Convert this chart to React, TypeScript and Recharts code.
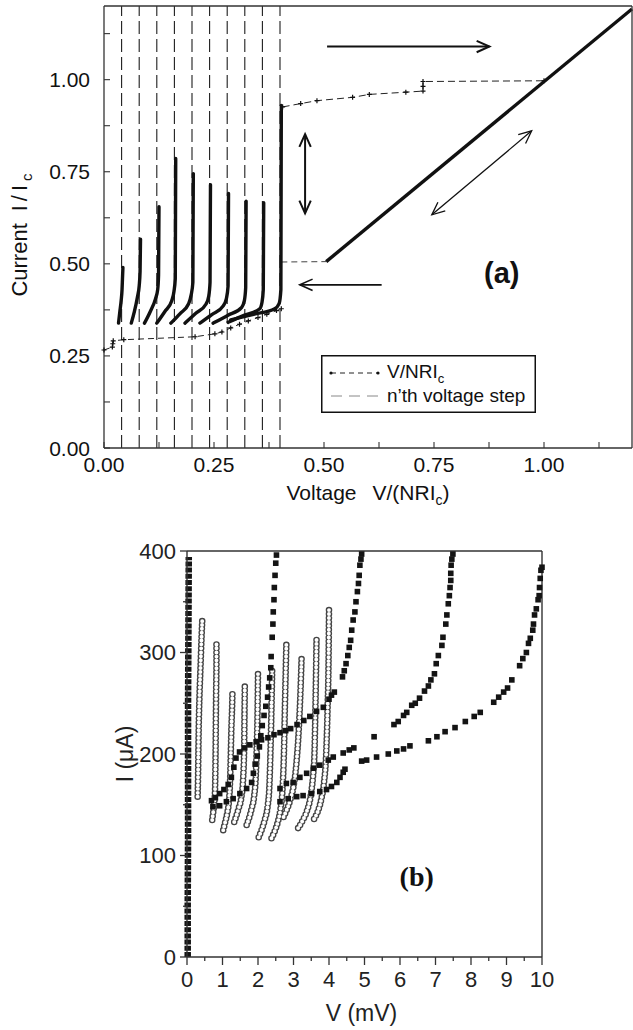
import React from 'react';
import {
  ComposedChart,
  Line,
  Scatter,
  XAxis,
  YAxis,
  ReferenceLine,
  ReferenceDot,
  Legend,
  Label,
} from 'recharts';

type P = [number, number];
const rows = (pts: P[]) => pts.map(([v, i]) => ({ v, i }));

const SANS = '"Liberation Sans", Arial, Helvetica, sans-serif';
const SERIF = '"Liberation Serif", "Times New Roman", serif';
const AX = '#333';

// ---------- panel (a): normalised voltage V/(NRIc) vs current I/Ic ----------
const voltageSteps = [0.04, 0.08, 0.12, 0.16, 0.2, 0.24, 0.28, 0.32, 0.36, 0.4];
const aTicks = [0, 0.125, 0.25, 0.375, 0.5, 0.625, 0.75, 0.875, 1, 1.125];

const step1: P[] = [[0.033, 0.339], [0.036, 0.37], [0.039, 0.4], [0.041, 0.43], [0.042, 0.46], [0.043, 0.49]];
const step2: P[] = [[0.062, 0.339], [0.069, 0.37], [0.076, 0.41], [0.08, 0.44], [0.082, 0.48], [0.083, 0.567]];
const step3: P[] = [[0.092, 0.339], [0.105, 0.37], [0.117, 0.405], [0.122, 0.43], [0.124, 0.47], [0.125, 0.655]];
const step4: P[] = [[0.12, 0.339], [0.138, 0.37], [0.154, 0.4], [0.159, 0.425], [0.162, 0.46], [0.163, 0.786]];
const step5: P[] = [[0.152, 0.339], [0.173, 0.365], [0.192, 0.391], [0.198, 0.415], [0.202, 0.45], [0.203, 0.745]];
const step6: P[] = [[0.184, 0.339], [0.208, 0.365], [0.232, 0.391], [0.238, 0.412], [0.241, 0.45], [0.242, 0.715]];
const step7: P[] = [[0.218, 0.339], [0.245, 0.362], [0.271, 0.386], [0.278, 0.405], [0.282, 0.44], [0.283, 0.691]];
const step8: P[] = [[0.248, 0.339], [0.281, 0.36], [0.313, 0.382], [0.319, 0.4], [0.322, 0.435], [0.323, 0.67]];
const step9: P[] = [[0.282, 0.341], [0.318, 0.36], [0.354, 0.378], [0.359, 0.395], [0.362, 0.43], [0.363, 0.666]];
const step10: P[] = [[0.288, 0.348], [0.34, 0.363], [0.388, 0.378], [0.398, 0.392], [0.402, 0.43], [0.403, 0.93]];
const stepCurves = [step1, step2, step3, step4, step5, step6, step7, step8, step9, step10];

const loadLower: P[] = [
  [0.0, 0.266], [0.019, 0.274], [0.02, 0.283], [0.021, 0.291], [0.045, 0.294], [0.207, 0.302],
  [0.252, 0.31], [0.268, 0.315], [0.288, 0.326], [0.308, 0.336], [0.328, 0.345], [0.35, 0.354],
  [0.37, 0.363], [0.392, 0.373], [0.403, 0.378],
];
const loadUpper: P[] = [
  [0.406, 0.926], [0.447, 0.935], [0.484, 0.943], [0.565, 0.952], [0.603, 0.96], [0.686, 0.966],
  [0.725, 0.969], [0.725, 0.982], [0.725, 0.995], [1.0, 0.997],
];
const retrapLink: P[] = [[0.403, 0.505], [0.505, 0.506]];
const ohmicBranch: P[] = [[0.505, 0.506], [1.2, 1.192]];

// ---------- panel (b): measured I-V, V in mV, I in µA ----------
const bTicksV = [0, 0.5, 1, 1.5, 2, 2.5, 3, 3.5, 4, 4.5, 5, 5.5, 6, 6.5, 7, 7.5, 8, 8.5, 9, 9.5, 10];
const bTicksI = [0, 50, 100, 150, 200, 250, 300, 350, 400];

const zeroBranch: P[] = [[0.02, 0], [0.02, 50], [0.03, 120], [0.03, 180], [0.03, 250], [0.04, 320], [0.05, 394]];

const swA: P[] = [
  [0.73, 148], [0.92, 149], [1.11, 153], [1.3, 156], [1.49, 161], [1.68, 166], [1.82, 172], [1.87, 181],
  [1.92, 190], [1.98, 198], [2.04, 207], [2.08, 218], [2.12, 228], [2.17, 238], [2.22, 247], [2.27, 256],
  [2.3, 266], [2.33, 275], [2.36, 285], [2.37, 296], [2.4, 315], [2.42, 328], [2.43, 340], [2.45, 352],
  [2.46, 364], [2.48, 376], [2.5, 388], [2.52, 396],
];
const swB: P[] = [
  [0.69, 154], [0.8, 157], [0.92, 161], [1.04, 165], [1.16, 170], [1.25, 177], [1.32, 187], [1.38, 196],
  [1.48, 202], [1.62, 206], [1.77, 209], [1.95, 212], [2.1, 214], [2.28, 216], [2.45, 219], [2.62, 221],
  [2.78, 223], [2.92, 225], [3.1, 229], [3.29, 233], [3.46, 237], [3.65, 242], [3.84, 246], [4.0, 254],
  [4.07, 258], [4.15, 261], [4.38, 276], [4.43, 282], [4.48, 289], [4.53, 297], [4.57, 305], [4.61, 312],
  [4.64, 322], [4.68, 332], [4.73, 340], [4.76, 350], [4.8, 360], [4.83, 368], [4.85, 376], [4.87, 386],
  [4.9, 392], [4.92, 397],
];
const swC: P[] = [
  [2.62, 166], [2.8, 171], [2.99, 172], [3.18, 177], [3.37, 181], [3.56, 186], [3.74, 189], [3.98, 194],
  [4.12, 197], [4.4, 201], [4.57, 204], [4.7, 206], [5.27, 217], [5.83, 229], [5.95, 232], [6.1, 238],
  [6.19, 241], [6.33, 248], [6.43, 250], [6.55, 255], [6.69, 262], [6.8, 267], [6.87, 273], [6.97, 279],
  [7.02, 289], [7.08, 297], [7.18, 307], [7.21, 315], [7.29, 328], [7.32, 337], [7.36, 348], [7.39, 356],
  [7.41, 364], [7.43, 371], [7.43, 378], [7.44, 386], [7.46, 392], [7.49, 397],
];
const swD: P[] = [
  [2.62, 153], [2.85, 156], [3.09, 158], [3.27, 159], [3.51, 161], [3.74, 163], [3.93, 165], [4.07, 168],
  [4.22, 172], [4.31, 177], [4.4, 182], [4.45, 185], [4.92, 193], [5.06, 194], [5.34, 197], [5.67, 200],
  [5.91, 203], [6.1, 205], [6.28, 208], [6.8, 213], [7.04, 217], [7.27, 222], [7.55, 226], [7.84, 232],
  [8.09, 237], [8.26, 241], [8.64, 251], [8.78, 256], [8.92, 261], [9.03, 265], [9.15, 273], [9.37, 287],
  [9.46, 294], [9.56, 300], [9.62, 309], [9.67, 314], [9.74, 322], [9.76, 328], [9.79, 337], [9.84, 343],
  [9.89, 352], [9.92, 356], [9.93, 364], [9.95, 373], [9.97, 381], [10.0, 384],
];
const sweeps = [swA, swB, swC, swD];

const loop1: P[] = [[0.3, 158], [0.31, 175], [0.32, 200], [0.33, 225], [0.35, 255], [0.38, 285], [0.41, 315], [0.43, 332]];
const loop2: P[] = [[0.71, 135], [0.74, 143], [0.77, 152], [0.79, 165], [0.8, 185], [0.81, 220], [0.82, 260], [0.83, 290], [0.83, 310]];
const loop3: P[] = [[1.02, 125], [1.07, 132], [1.13, 141], [1.18, 153], [1.21, 170], [1.23, 195], [1.25, 225], [1.27, 245], [1.28, 260]];
const loop4: P[] = [[1.33, 133], [1.39, 139], [1.46, 147], [1.53, 157], [1.58, 175], [1.61, 205], [1.62, 240], [1.63, 270]];
const loop5: P[] = [[1.68, 130], [1.75, 137], [1.82, 146], [1.89, 158], [1.94, 180], [1.97, 215], [1.99, 250], [2.0, 281]];
const loop6: P[] = [[2.02, 118], [2.1, 125], [2.19, 135], [2.27, 148], [2.32, 168], [2.35, 200], [2.38, 245], [2.4, 284]];
const loop7: P[] = [[2.38, 117], [2.46, 123], [2.55, 132], [2.63, 145], [2.69, 165], [2.73, 200], [2.76, 250], [2.8, 310]];
const loop8: P[] = [[2.72, 138], [2.81, 145], [2.91, 155], [3.0, 168], [3.08, 190], [3.15, 225], [3.2, 265], [3.23, 297]];
const loop9: P[] = [[3.13, 127], [3.25, 134], [3.38, 144], [3.48, 158], [3.55, 178], [3.59, 200], [3.62, 250], [3.65, 316]];
const loop10: P[] = [[3.58, 136], [3.68, 143], [3.78, 155], [3.86, 172], [3.92, 200], [3.96, 245], [3.99, 300], [4.0, 342]];
const loops = [loop1, loop2, loop3, loop4, loop5, loop6, loop7, loop8, loop9, loop10];

// ---------- helpers ----------
const isMultiple = (v: number, step: number) => Math.abs(v / step - Math.round(v / step)) < 1e-6;

const arrowShape = (both: boolean, w: number) => (p: any) => {
  const x1 = Number(p.x1), y1 = Number(p.y1), x2 = Number(p.x2), y2 = Number(p.y2);
  const a = Math.atan2(y2 - y1, x2 - x1);
  const L = 14;
  const s = 0.42;
  const head = (x: number, y: number, ang: number) =>
    `M${x - L * Math.cos(ang - s)},${y - L * Math.sin(ang - s)}L${x},${y}L${x - L * Math.cos(ang + s)},${y - L * Math.sin(ang + s)}`;
  return (
    <g>
      <line x1={x1} y1={y1} x2={x2} y2={y2} stroke="#111" strokeWidth={w} />
      <path d={head(x2, y2, a)} fill="none" stroke="#111" strokeWidth={w} />
      {both && <path d={head(x1, y1, a + Math.PI)} fill="none" stroke="#111" strokeWidth={w} />}
    </g>
  );
};

const CrossDot = (p: any) => {
  if (p.cx == null || p.cy == null) return <g />;
  return <path d={`M${p.cx - 2.5},${p.cy}h5M${p.cx},${p.cy - 2.5}v5`} stroke="#111" strokeWidth={1.2} />;
};

const SquareMark = (p: any) => (
  <rect x={p.cx - 2.8} y={p.cy - 2.8} width={5.6} height={5.6} fill="#141414" />
);

// panel (a) ticks: inward, labels every 0.25
const ABottomTick = (p: any) => {
  const v = p.payload.value;
  return (
    <g>
      <line x1={p.x} y1={p.y} x2={p.x} y2={p.y - 6} stroke={AX} strokeWidth={1.1} />
      {isMultiple(v, 0.25) && (
        <text x={p.x} y={p.y + 24} textAnchor="middle" fontSize={21} fontFamily={SANS} fill="#111">
          {v.toFixed(2)}
        </text>
      )}
    </g>
  );
};
const ALeftTick = (p: any) => {
  const v = p.payload.value;
  return (
    <g>
      <line x1={p.x} y1={p.y} x2={p.x + 6} y2={p.y} stroke={AX} strokeWidth={1.1} />
      {isMultiple(v, 0.25) && (
        <text x={p.x - 14} y={p.y} dy="0.36em" textAnchor="end" fontSize={21} fontFamily={SANS} fill="#111">
          {v.toFixed(2)}
        </text>
      )}
    </g>
  );
};
const ARightTick = (p: any) => (
  <line x1={p.x} y1={p.y} x2={p.x - 6} y2={p.y} stroke={AX} strokeWidth={1.1} />
);

// panel (b) ticks
const BBottomTick = (p: any) => {
  const v = p.payload.value;
  const major = isMultiple(v, 1);
  return (
    <g>
      <line x1={p.x} y1={p.y} x2={p.x} y2={p.y + (major ? 8 : 4)} stroke={AX} strokeWidth={1.3} />
      {major && (
        <text x={p.x} y={p.y + 30} textAnchor="middle" fontSize={22} fontFamily={SANS} fill="#222">
          {v}
        </text>
      )}
    </g>
  );
};
const BTopTick = (p: any) => {
  const major = isMultiple(p.payload.value, 1);
  return <line x1={p.x} y1={p.y} x2={p.x} y2={p.y + (major ? 6 : 4)} stroke={AX} strokeWidth={1.3} />;
};
const BLeftTick = (p: any) => {
  const v = p.payload.value;
  const major = isMultiple(v, 100);
  return (
    <g>
      <line x1={p.x} y1={p.y} x2={p.x - (major ? 7 : 4)} y2={p.y} stroke={AX} strokeWidth={1.3} />
      {major && (
        <text x={p.x - 11} y={p.y} dy="0.36em" textAnchor="end" fontSize={22} fontFamily={SANS} fill="#222">
          {v}
        </text>
      )}
    </g>
  );
};
const BRightTick = (p: any) => (
  <line x1={p.x} y1={p.y} x2={p.x - 5} y2={p.y} stroke={AX} strokeWidth={1.3} />
);

// axis titles
const XTitleA = (p: any) => {
  const vb = p.viewBox || { x: 104, y: 448, width: 528 };
  return (
    <text x={vb.x + vb.width / 2} y={vb.y + 52} textAnchor="middle" fontSize={21} fontFamily={SANS} fill="#111">
      Voltage
      <tspan dx={16}>V/(NRI</tspan>
      <tspan dy={5} fontSize={14}>c</tspan>
      <tspan dy={-5}>)</tspan>
    </text>
  );
};
const YTitleA = (p: any) => {
  const vb = p.viewBox || { x: 0, y: 6, height: 442 };
  const cy = vb.y + vb.height / 2 + 8;
  const bx = 27;
  return (
    <text transform={`rotate(-90 ${bx} ${cy})`} x={bx} y={cy} textAnchor="middle" fontSize={22} fontFamily={SANS} fill="#111">
      Current
      <tspan dx={12} letterSpacing={4}>I/I</tspan>
      <tspan dy={5} fontSize={15}>c</tspan>
    </text>
  );
};
const XTitleB = (p: any) => {
  const vb = p.viewBox || { x: 187, y: 457, width: 355 };
  return (
    <text x={vb.x + vb.width / 2 - 3} y={vb.y + 64} textAnchor="middle" fontSize={23} fontFamily={SANS} fill="#222">
      V (mV)
    </text>
  );
};
const YTitleB = (p: any) => {
  const vb = p.viewBox || { x: 0, y: 51, height: 406 };
  const cy = vb.y + vb.height / 2;
  const bx = 133;
  return (
    <text transform={`rotate(-90 ${bx} ${cy})`} x={bx} y={cy} textAnchor="middle" fontSize={23} fontFamily={SANS} fill="#222">
      I (μA)
    </text>
  );
};

const LegendA = () => (
  <svg width={215} height={58} style={{ display: 'block' }}>
    <rect x={0.75} y={0.75} width={213.5} height={56.5} fill="#fff" stroke="#111" strokeWidth={1.5} />
    <line x1={10} y1={18} x2={57} y2={18} stroke="#222" strokeWidth={1} strokeDasharray="5 4" />
    <circle cx={10} cy={18} r={1.6} fill="#111" />
    <circle cx={57} cy={18} r={1.6} fill="#111" />
    <text x={66} y={23} fontSize={19} fontFamily={SANS} fill="#111">
      V/NRI<tspan dy={5} fontSize={13}>c</tspan>
    </text>
    <line x1={10} y1={41} x2={57} y2={41} stroke="#888" strokeWidth={1} strokeDasharray="11 7" />
    <text x={66} y={46.7} fontSize={19} fontFamily={SANS} fill="#111">
      n’th voltage step
    </text>
  </svg>
);

function PanelA() {
  return (
    <ComposedChart width={633} height={510} margin={{ top: 5, right: 0, bottom: 0, left: 0 }}>
      <XAxis
        dataKey="v"
        type="number"
        domain={[0, 1.2]}
        ticks={aTicks}
        interval={0}
        height={62}
        tick={<ABottomTick />}
        tickLine={false}
        tickSize={0}
        tickMargin={0}
        axisLine={{ stroke: AX, strokeWidth: 1.3 }}
      >
        <Label content={XTitleA} />
      </XAxis>
      <XAxis
        xAxisId="top"
        orientation="top"
        type="number"
        domain={[0, 1.2]}
        height={1}
        tick={false}
        tickLine={false}
        axisLine={{ stroke: AX, strokeWidth: 1.3 }}
      />
      <YAxis
        type="number"
        domain={[0, 1.2]}
        ticks={aTicks}
        interval={0}
        width={104}
        tick={<ALeftTick />}
        tickLine={false}
        tickSize={0}
        tickMargin={0}
        axisLine={{ stroke: AX, strokeWidth: 1.3 }}
      >
        <Label content={YTitleA} />
      </YAxis>
      <YAxis
        yAxisId="r"
        orientation="right"
        type="number"
        domain={[0, 1.2]}
        ticks={aTicks}
        interval={0}
        width={1}
        tick={<ARightTick />}
        tickLine={false}
        tickSize={0}
        tickMargin={0}
        axisLine={{ stroke: AX, strokeWidth: 1.3 }}
      />

      {voltageSteps.map((v) => (
        <ReferenceLine key={`vs${v}`} x={v} stroke="#1e1e1e" strokeWidth={1.1} strokeDasharray="13 5" />
      ))}

      <Line data={rows(loadLower)} dataKey="i" type="linear" stroke="#222" strokeWidth={1} strokeDasharray="6 4" dot={<CrossDot />} activeDot={false} isAnimationActive={false} />
      <Line data={rows(loadUpper)} dataKey="i" type="linear" stroke="#222" strokeWidth={1} strokeDasharray="7 4" dot={<CrossDot />} activeDot={false} isAnimationActive={false} />
      <Line data={rows(retrapLink)} dataKey="i" type="linear" stroke="#444" strokeWidth={1} strokeDasharray="6 4" dot={false} activeDot={false} isAnimationActive={false} />

      {stepCurves.map((c, k) => (
        <Line key={`st${k}`} data={rows(c)} dataKey="i" type="monotone" stroke="#111" strokeWidth={3.4} strokeLinecap="round" strokeLinejoin="round" dot={false} activeDot={false} isAnimationActive={false} />
      ))}
      <Line data={rows(ohmicBranch)} dataKey="i" type="linear" stroke="#111" strokeWidth={3.4} dot={false} activeDot={false} isAnimationActive={false} />

      <ReferenceLine segment={[{ x: 0.507, y: 1.09 }, { x: 0.876, y: 1.09 }]} shape={arrowShape(false, 2)} />
      <ReferenceLine segment={[{ x: 0.457, y: 0.852 }, { x: 0.457, y: 0.637 }]} shape={arrowShape(true, 2)} />
      <ReferenceLine segment={[{ x: 0.745, y: 0.633 }, { x: 0.972, y: 0.861 }]} shape={arrowShape(true, 1.3)} />
      <ReferenceLine segment={[{ x: 0.631, y: 0.443 }, { x: 0.445, y: 0.443 }]} shape={arrowShape(false, 1.6)} />

      <ReferenceDot
        x={0.904}
        y={0.448}
        r={0}
        shape={(p: any) => (
          <text x={p.cx} y={p.cy} textAnchor="middle" fontSize={29} fontWeight="bold" fontFamily={SANS} fill="#111">
            (a)
          </text>
        )}
      />

      <Legend
        layout="horizontal"
        verticalAlign="middle"
        align="center"
        content={() => <LegendA />}
        wrapperStyle={{ left: 321, top: 355, width: 215, height: 58 }}
      />
    </ComposedChart>
  );
}

function PanelB() {
  return (
    <ComposedChart width={633} height={530} margin={{ top: 50, right: 90, bottom: 0, left: 0 }}>
      <XAxis
        dataKey="v"
        type="number"
        domain={[0, 10]}
        ticks={bTicksV}
        interval={0}
        height={73}
        tick={<BBottomTick />}
        tickLine={false}
        tickSize={0}
        tickMargin={0}
        axisLine={{ stroke: AX, strokeWidth: 1.4 }}
      >
        <Label content={XTitleB} />
      </XAxis>
      <XAxis
        xAxisId="t"
        orientation="top"
        type="number"
        domain={[0, 10]}
        ticks={bTicksV}
        interval={0}
        height={1}
        tick={<BTopTick />}
        tickLine={false}
        tickSize={0}
        tickMargin={0}
        axisLine={{ stroke: AX, strokeWidth: 1.4 }}
      />
      <YAxis
        dataKey="i"
        type="number"
        domain={[0, 400]}
        ticks={bTicksI}
        interval={0}
        width={187}
        tick={<BLeftTick />}
        tickLine={false}
        tickSize={0}
        tickMargin={0}
        axisLine={{ stroke: AX, strokeWidth: 1.4 }}
      >
        <Label content={YTitleB} />
      </YAxis>
      <YAxis
        yAxisId="r"
        orientation="right"
        type="number"
        domain={[0, 400]}
        ticks={bTicksI}
        interval={0}
        width={1}
        tick={<BRightTick />}
        tickLine={false}
        tickSize={0}
        tickMargin={0}
        axisLine={{ stroke: AX, strokeWidth: 1.4 }}
      />

      {/* open-circle traces: grey discs, then white centres on the same dash rhythm */}
      {loops.map((c, k) => (
        <Line key={`lo${k}`} data={rows(c)} dataKey="i" type="monotone" stroke="#454545" strokeWidth={6.6} strokeDasharray="0 3.9" strokeLinecap="round" dot={false} activeDot={false} isAnimationActive={false} />
      ))}
      {loops.map((c, k) => (
        <Line key={`li${k}`} data={rows(c)} dataKey="i" type="monotone" stroke="#ffffff" strokeWidth={3.9} strokeDasharray="0 3.9" strokeLinecap="round" dot={false} activeDot={false} isAnimationActive={false} />
      ))}

      <Line data={rows(zeroBranch)} dataKey="i" type="linear" stroke="#141414" strokeWidth={6.5} strokeDasharray="5 1.2" dot={false} activeDot={false} isAnimationActive={false} />

      {sweeps.map((s, k) => (
        <Scatter key={`sw${k}`} data={rows(s)} shape={SquareMark} isAnimationActive={false} />
      ))}

      <ReferenceDot
        x={6.47}
        y={70}
        r={0}
        shape={(p: any) => (
          <text x={p.cx} y={p.cy} textAnchor="middle" fontSize={28} fontWeight="bold" fontFamily={SERIF} fill="#111">
            (b)
          </text>
        )}
      />
    </ComposedChart>
  );
}

export default function App() {
  return (
    <div style={{ position: 'absolute', left: 0, top: 0, width: 633, height: 1030, background: '#fff' }}>
      <div style={{ position: 'absolute', left: 0, top: 0 }}>
        <PanelA />
      </div>
      <div style={{ position: 'absolute', left: 0, top: 500 }}>
        <PanelB />
      </div>
    </div>
  );
}
